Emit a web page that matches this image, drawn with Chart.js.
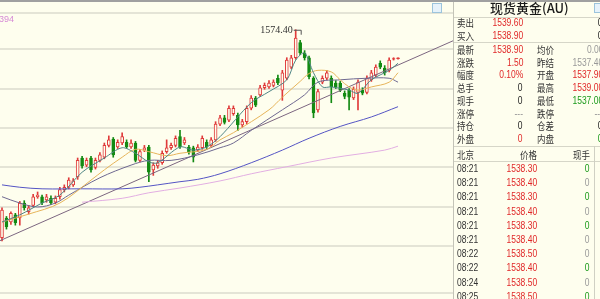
<!DOCTYPE html>
<html>
<head>
<meta charset="utf-8">
<script src="https://cdn.jsdelivr.net/npm/chart.js@4.4.1/dist/chart.umd.min.js"></script>
<style>
  html, body { margin: 0; padding: 0; }
  body {
    width: 600px; height: 299px; overflow: hidden; position: relative;
    background: #fefeee; font-family: "Liberation Sans", Arial, sans-serif;
  }
  #chartBox { position: absolute; left: 0; top: 0; width: 454px; height: 299px; }
  #topBar { position: absolute; left: 0; top: 0; width: 600px; height: 2px; background: #a0a0a0; }
  #maTail { position: absolute; left: -1px; top: 14px; font-size: 9px; color: #d68ad6; }
  .icon { position: absolute; width: 8px; height: 8px; border: 1px solid #9cc4dc; background: #e6f2fa; }
  #panel { position: absolute; left: 453px; top: 2px; width: 147px; height: 297px; border-left: 1px solid #c4c4b8; }
  .hline { position: absolute; left: 454px; width: 146px; height: 1px; background: #d6d6c8; }
  .vline { position: absolute; width: 1px; background: #d0d0c4; }
  .cell { position: absolute; font-size: 10px; line-height: 12px; height: 12px; white-space: nowrap; transform: scaleX(0.85); }
  .cell.l { transform-origin: left center; }
  .cell.r { transform-origin: right center; text-align: right; }
  .cjk { font-family: "Noto Sans CJK SC", sans-serif; color: #333; }
  #title {
    position: absolute; left: 490px; top: 0px; font-family: "Noto Sans CJK SC", serif;
    font-size: 13px; line-height: 16px; color: #1a1a1a; font-weight: 500;
  }
</style>
</head>
<body>
<div id="chartBox"><canvas id="kline"></canvas></div>
<div id="topBar"></div>
<div id="maTail">394</div>
<div class="icon" style="left:432px; top:3px;"></div>
<div id="panel"></div>
<div class="icon" style="left:594px; top:3px;"></div>
<div id="title">现货黄金(AU)</div>
<script>
// ── Candles (price units) ───────────────────────────────────────────────────
const candleOpen = [
  1311, 1336, 1331, 1340, 1336, 1355, 1344, 1352, 1363, 1363,
  1359, 1361, 1356, 1363, 1372, 1375, 1378, 1388, 1412, 1403,
  1412, 1400, 1409, 1413, 1428, 1436, 1426, 1431, 1432, 1426,
  1431, 1409, 1422, 1426, 1397, 1402, 1406, 1420, 1425, 1428,
  1439, 1431, 1426, 1425, 1422, 1425, 1432, 1428, 1435, 1455,
  1463, 1460, 1468, 1466, 1454, 1458, 1475, 1488, 1492, 1501,
  1502, 1504, 1513, 1498, 1513, 1527, 1539, 1558, 1545, 1539,
  1513, 1473, 1508, 1513, 1513, 1507, 1507, 1494, 1498, 1488,
  1495, 1498, 1495, 1511, 1517, 1532, 1526, 1523, 1537, 1537.9
];
const candleClose = [
  1346, 1325, 1342, 1330, 1355, 1349, 1349, 1363, 1365, 1355,
  1363, 1355, 1361, 1372, 1375, 1384, 1383, 1409, 1402, 1409,
  1397, 1409, 1416, 1428, 1435, 1416, 1432, 1439, 1426, 1431,
  1409, 1420, 1425, 1394, 1403, 1406, 1418, 1425, 1428, 1437,
  1426, 1435, 1420, 1413, 1426, 1437, 1426, 1435, 1455, 1463,
  1457, 1475, 1475, 1454, 1458, 1475, 1488, 1479, 1501, 1504,
  1507, 1508, 1507, 1520, 1536, 1539, 1564, 1545, 1539, 1515,
  1469, 1496, 1513, 1520, 1502, 1502, 1498, 1490, 1489, 1499,
  1508, 1494, 1513, 1520, 1527, 1527, 1520, 1536, 1538, 1538.9
];
const candleHigh = [
  1349, 1338, 1344, 1342, 1357, 1358, 1352, 1366, 1369, 1365,
  1366, 1364, 1364, 1375, 1378, 1387, 1386, 1412, 1414, 1412,
  1414, 1412, 1419, 1431, 1440, 1438, 1435, 1444, 1435, 1435,
  1433, 1423, 1428, 1428, 1406, 1409, 1421, 1435, 1431, 1440,
  1447, 1438, 1428, 1427, 1429, 1440, 1435, 1438, 1458, 1466,
  1466, 1478, 1478, 1469, 1461, 1478, 1491, 1490, 1504, 1507,
  1510, 1511, 1517, 1523, 1539, 1542, 1574.4, 1561, 1548, 1541,
  1515, 1499, 1516, 1523, 1516, 1510, 1509, 1497, 1500, 1502,
  1511, 1501, 1516, 1523, 1530, 1535, 1529, 1539, 1539, 1539
];
const candleLow = [
  1307, 1322, 1328, 1327, 1327, 1346, 1341, 1350, 1361, 1353,
  1356, 1353, 1354, 1360, 1369, 1373, 1376, 1385, 1399, 1401,
  1394, 1398, 1407, 1411, 1426, 1413, 1424, 1429, 1424, 1424,
  1407, 1407, 1420, 1382, 1390, 1399, 1404, 1418, 1423, 1426,
  1424, 1429, 1417, 1407, 1420, 1423, 1424, 1426, 1433, 1453,
  1455, 1458, 1466, 1447, 1451, 1455, 1473, 1477, 1490, 1499,
  1500, 1502, 1505, 1485, 1511, 1525, 1537, 1543, 1536, 1512,
  1463, 1470, 1506, 1511, 1482, 1500, 1496, 1487, 1473, 1486,
  1473, 1492, 1493, 1509, 1515, 1525, 1517, 1521, 1536, 1537
];

// ── Moving averages, read at sample candles: [candle index, price] ──────────
const ma5Pts = [[0,1331],[4,1340],[9,1355],[13,1365],[18,1394],[23,1412],[27,1425],[30,1418],[33,1407],[35,1406],[40,1426],[43,1422],[46,1426],[49,1439],[56,1482],[60,1496],[64,1511],[66,1536],[68,1545],[70,1520],[72,1502],[74,1502],[78,1498],[80,1494],[83,1511],[87,1523],[89,1532]];
const ma10Pts = [[0,1331],[6,1341],[13,1355],[20,1384],[23,1397],[27,1413],[30,1423],[33,1420],[37,1415],[40,1418],[46,1423],[49,1435],[52,1444],[60,1473],[63,1489],[67,1509],[69,1519],[71,1523],[74,1521],[76,1511],[78,1502],[80,1498],[83,1502],[87,1508],[89,1520]];
const ma20Pts = [[0,1363],[4,1355],[8,1350],[12,1355],[15,1365],[22,1387],[29,1403],[33,1409],[38,1409],[44,1416],[49,1425],[52,1431],[56,1447],[63,1473],[68,1492],[71,1508],[76,1511],[82,1513],[87,1513],[89,1508]];
const ma60Pts = [[0,1378],[4,1375],[9,1373],[18,1373],[27,1373],[31,1375],[35,1378],[40,1382],[44,1385],[49,1392],[56,1406],[63,1422],[69,1437],[76,1452],[83,1464],[89,1477]];
const ma120Pts = [[18,1356],[27,1361],[33,1368],[40,1374],[49,1383],[56,1392],[64,1401],[74,1412],[86,1422],[89,1427]];
// hand-drawn trend line, two anchors [candle index, price]
const trendPts = [[-1,1306],[102,1562]];

// view window and horizontal grid levels
const X_MIN = -0.45, X_MAX = 101.35;
const Y_MIN = 1241.1, Y_MAX = 1595.6;
const gridPrices = [1241.1, 1300, 1350, 1400, 1450, 1500, 1550, 1595.6];

const RED = '#e03a3a', GREEN = '#138a13', BG = '#fefeee';

const toXY = pts => pts.map(([x, y]) => ({ x, y }));
const isUp = i => candleClose[i] >= candleOpen[i];

function lineSet(label, pts, color, tension) {
  return {
    type: 'line', label, data: toXY(pts), borderColor: color, borderWidth: 1,
    pointRadius: 0, tension: tension, order: 0,
  };
}

// label over the highest candle
const peakLabel = {
  id: 'peakLabel',
  afterDatasetsDraw(chart) {
    let hi = 0;
    candleHigh.forEach((v, i) => { if (v > candleHigh[hi]) hi = i; });
    const x = chart.scales.x.getPixelForValue(hi);
    const y = chart.scales.y.getPixelForValue(candleHigh[hi]);
    const ctx = chart.ctx;
    ctx.save();
    ctx.font = '10px "Liberation Serif", serif';
    ctx.fillStyle = '#333';
    ctx.textAlign = 'right';
    ctx.textBaseline = 'middle';
    ctx.fillText(candleHigh[hi].toFixed(2), x - 3, y + 1);
    ctx.strokeStyle = '#555';
    ctx.lineWidth = 1;
    ctx.beginPath();
    ctx.moveTo(x - 2, y + 0.5);
    ctx.lineTo(x + 5.5, y + 0.5);
    ctx.lineTo(x + 5.5, y + 5);
    ctx.stroke();
    ctx.restore();
  }
};

new Chart(document.getElementById('kline'), {
  type: 'bar',
  data: {
    datasets: [
      lineSet('MA5', ma5Pts, '#4f8585', 0.3),
      lineSet('MA10', ma10Pts, '#e6b45a', 0.35),
      lineSet('MA20', ma20Pts, '#6e6890', 0.35),
      lineSet('MA60', ma60Pts, '#5454c4', 0.35),
      lineSet('MA120', ma120Pts, '#e2aee2', 0.35),
      lineSet('trend', trendPts, '#7c6680', 0),
      {
        label: 'body', order: 1, grouped: false,
        data: candleOpen.map((o, i) => ({ x: i, y: [o, candleClose[i]] })),
        barThickness: 3, borderWidth: 1, borderSkipped: false,
        borderColor: c => isUp(c.dataIndex) ? RED : GREEN,
        backgroundColor: c => {
          const i = c.dataIndex;
          if (!isUp(i)) return GREEN;
          return Math.abs(candleClose[i] - candleOpen[i]) < 2 ? RED : BG;
        },
      },
      {
        label: 'wick', order: 2, grouped: false,
        data: candleLow.map((l, i) => ({ x: i, y: [l, candleHigh[i]] })),
        barThickness: 1, borderWidth: 0,
        backgroundColor: c => isUp(c.dataIndex) ? RED : GREEN,
      },
    ],
  },
  options: {
    responsive: true,
    maintainAspectRatio: false,
    animation: false,
    layout: { padding: { top: 13, bottom: 6, left: 0, right: 1 } },
    plugins: { legend: { display: false }, tooltip: { enabled: false } },
    scales: {
      x: { type: 'linear', display: false, offset: false, min: X_MIN, max: X_MAX },
      y: {
        type: 'linear', min: Y_MIN, max: Y_MAX,
        ticks: { display: false },
        border: { display: false },
        grid: { color: '#e4e4d6', lineWidth: 2, drawTicks: false },
        afterBuildTicks: s => { s.ticks = gridPrices.map(v => ({ value: v })); },
      },
    },
  },
  plugins: [peakLabel],
});

// ── Quote panel ─────────────────────────────────────────────────────────────
const C = { r: '#e02828', g: '#1a9a1a', k: '#222', n: '#999' };
const bidAsk = [['卖出', '1539.60', '0'], ['买入', '1538.90', '0']];
const quoteRows = [
  ['最新', '1538.90', 'r', '均价', '0.00', 'n'],
  ['涨跌', '1.50', 'r', '昨结', '1537.40', 'n'],
  ['幅度', '0.10%', 'r', '开盘', '1537.90', 'r'],
  ['总手', '0', 'k', '最高', '1539.00', 'r'],
  ['现手', '0', 'k', '最低', '1537.00', 'g'],
  ['涨停', '---', 'n', '跌停', '---', 'n'],
  ['持仓', '0', 'k', '仓差', '0', 'k'],
  ['外盘', '0', 'r', '内盘', '0', 'g'],
];
const tickTimes = ['08:21', '08:21', '08:21', '08:21', '08:21', '08:21', '08:22', '08:22', '08:24', '08:25'];
const tickPrices = ['1538.30', '1538.40', '1538.30', '1538.40', '1538.30', '1538.40', '1538.50', '1538.40', '1538.50', '1538.50'];
const tickVols = ['0', '0', '0', '0', '0', '0', '0', '0', '0', '0'];
const tickVolColors = ['g', 'n', 'g', 'n', 'g', 'n', 'n', 'g', 'n', 'g'];

function cell(text, x, yc, align, color, cjk) {
  const d = document.createElement('div');
  d.className = 'cell ' + align + (cjk ? ' cjk' : '');
  d.textContent = text;
  d.style.top = (yc - 6) + 'px';
  if (align === 'l') d.style.left = x + 'px';
  else d.style.right = (600 - x) + 'px';
  if (color) d.style.color = color;
  document.body.appendChild(d);
}
function hline(y) {
  const d = document.createElement('div');
  d.className = 'hline'; d.style.top = y + 'px';
  document.body.appendChild(d);
}

hline(17); hline(42); hline(146); hline(161);
const v = document.createElement('div');
v.className = 'vline'; v.style.left = '594px'; v.style.top = '146px'; v.style.height = '153px';
document.body.appendChild(v);

bidAsk.forEach((r, k) => {
  const y = 23 + k * 12.5;
  cell(r[0], 457, y, 'l', null, true);
  cell(r[1], 523, y, 'r', C.r);
  cell(r[2], 603, y, 'r', C.k);
});
quoteRows.forEach((r, k) => {
  const y = 50 + k * 12.7;
  cell(r[0], 457, y, 'l', null, true);
  cell(r[1], 523, y, 'r', C[r[2]]);
  cell(r[3], 537, y, 'l', null, true);
  cell(r[4], 603, y, 'r', C[r[5]]);
});
cell('北京', 457, 155, 'l', null, true);
cell('价格', 537, 155, 'r', null, true);
cell('现手', 590, 155, 'r', null, true);
tickTimes.forEach((t, k) => {
  const y = 169 + k * 14.2;
  cell(t, 457, y, 'l', '#333');
  cell(tickPrices[k], 537, y, 'r', C.r);
  cell(tickVols[k], 590, y, 'r', C[tickVolColors[k]]);
});
</script>
</body>
</html>
